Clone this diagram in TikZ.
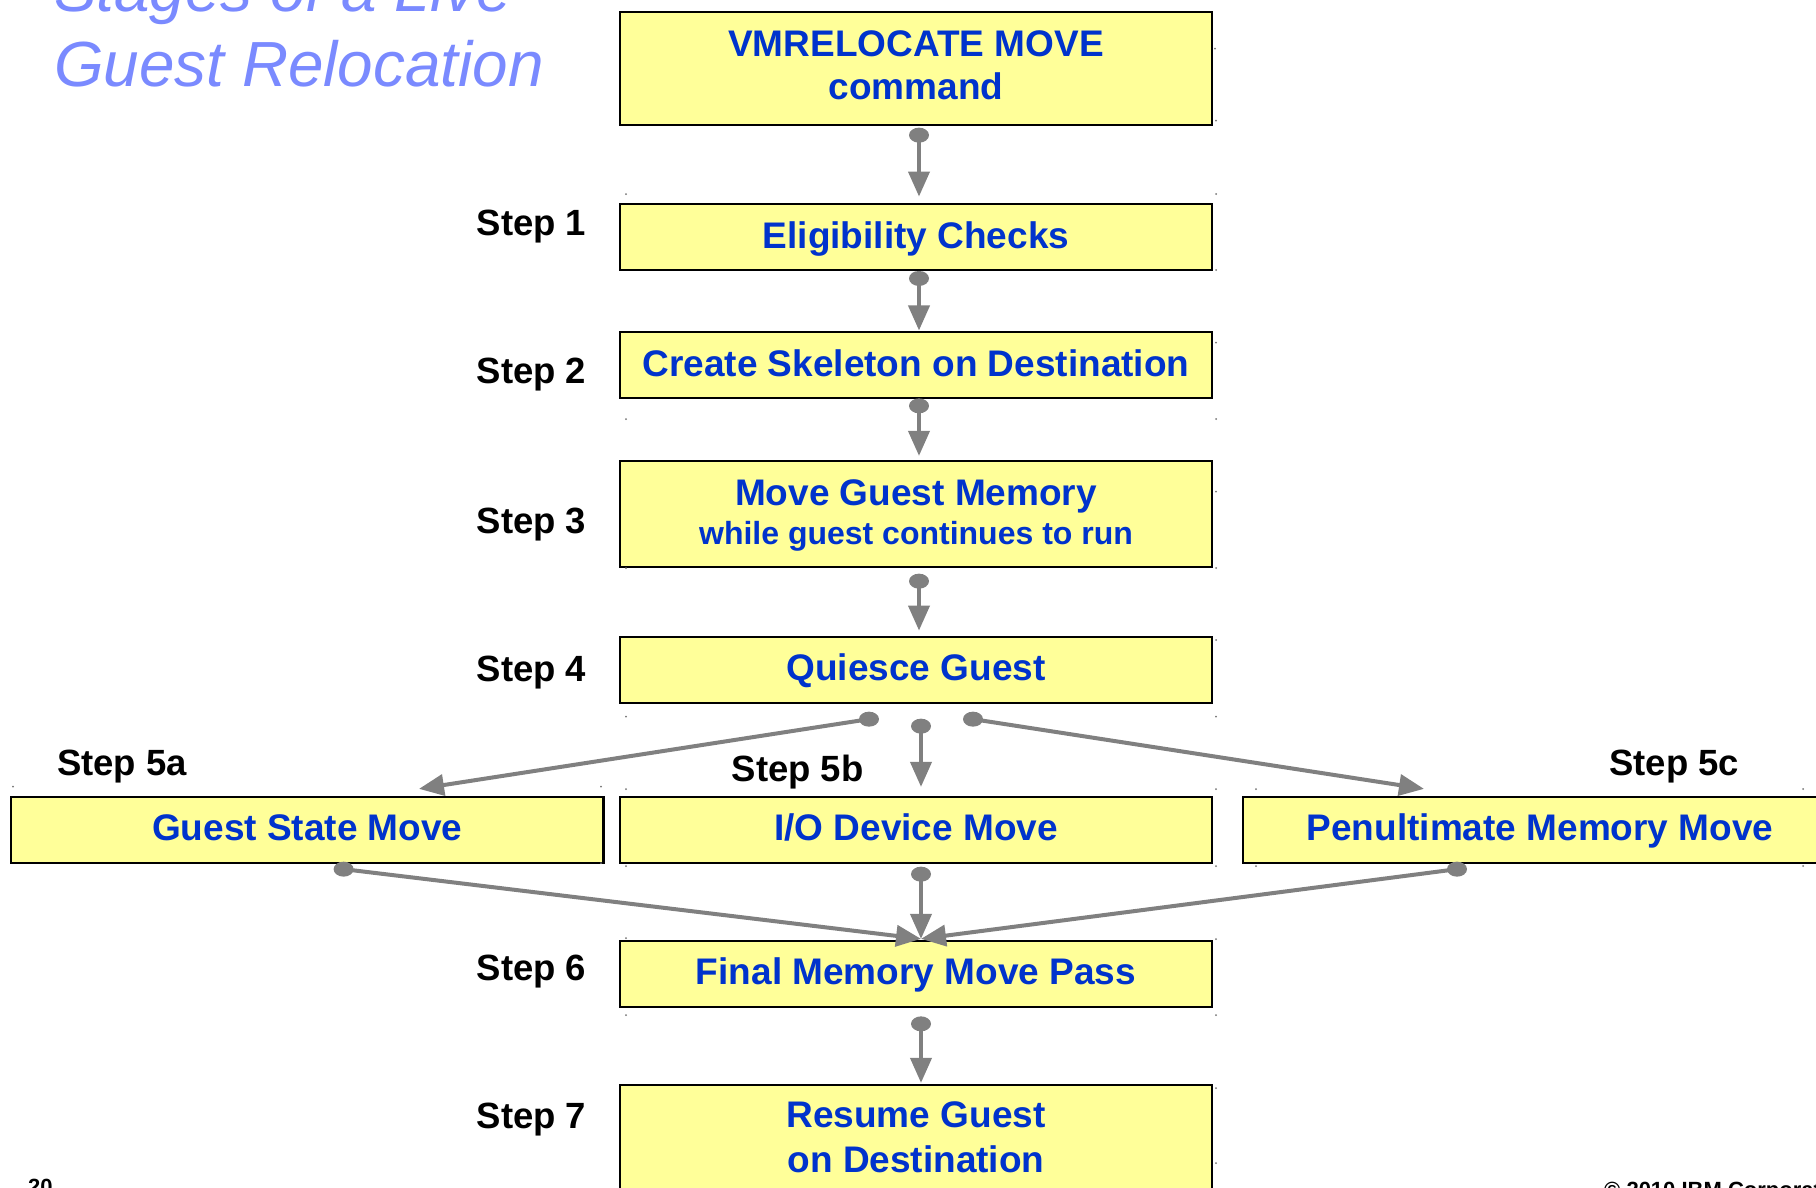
\documentclass[tikz,border=0pt]{standalone}
\usepackage{fontspec}
\setmainfont{Liberation Sans}
\usetikzlibrary{arrows.meta,calc}
\definecolor{boxfill}{RGB}{255,255,153}
\definecolor{txtblue}{RGB}{0,51,204}
\definecolor{titleblue}{RGB}{122,138,255}
\definecolor{conngray}{RGB}{128,128,128}
\tikzset{
  stagebox/.style={draw=black, line width=2.3pt, fill=boxfill, inner sep=0pt,
    minimum width=592pt, minimum height=66pt, text=txtblue,
    font=\bfseries\fontsize{37}{44}\selectfont, text height=22pt, text depth=0pt},
  boxtext/.style={inner sep=0pt, anchor=base, text=txtblue, font=\bfseries\fontsize{37}{44}\selectfont},
  smalltext/.style={inner sep=0pt, anchor=base, text=txtblue, font=\bfseries\fontsize{32}{38}\selectfont},
  steplabel/.style={inner sep=0pt, anchor=base west, font=\bfseries\fontsize{36.5}{44}\selectfont},
  titletext/.style={inner sep=0pt, anchor=base west, text=titleblue, font=\itshape\fontsize{63.8}{75}\selectfont},
  foottext/.style={inner sep=0pt, anchor=base west, font=\bfseries\fontsize{22}{26}\selectfont},
  conn/.style={draw=conngray, line width=4pt, -{Triangle[width=21pt,length=25pt]}},
  conndot/.style={fill=conngray},
  handle/.style={fill=black!55},
}
\begin{document}
\begin{tikzpicture}[x=1pt,y=-1pt]
\useasboundingbox (0,0) rectangle (1816,1187);
\fill[white] (0,0) rectangle (1816,1187);

% title
\node[titletext] (title1) at (54,11) {Stages of a Live};
\node[titletext] (title2) at (54,86) {Guest Relocation};

% boxes
\node[stagebox, minimum height=113pt] (b0) at (916,68.5) {};
\node[boxtext] (t0a) at (916,56.8) {VMRELOCATE MOVE};
\node[boxtext] (t0b) at (916,99.6) {command};
\node[stagebox] (b1) at (916,237.3) {Eligibility Checks};
\node[stagebox] (b2) at (916,365.2) {Create Skeleton on Destination};
\node[stagebox, minimum height=106pt] (b3) at (916,513.7) {};
\node[boxtext] (t3a) at (916,505) {Move Guest Memory};
\node[smalltext] (t3b) at (916,544) {while guest continues to run};
\node[stagebox] (b4) at (916,669.7) {Quiesce Guest};
\node[stagebox, minimum width=592.6pt] (b5a) at (307.3,829.7) {Guest State Move};
\node[stagebox] (b5b) at (916,829.7) {I/O Device Move};
\node[stagebox, minimum width=594pt] (b5c) at (1540,829.7) {Penultimate Memory Move};
\node[stagebox] (b6) at (916,973.7) {Final Memory Move Pass};
\node[stagebox, minimum height=111pt] (b7) at (916,1140.5) {};
\node[boxtext] (t7a) at (916,1127) {Resume Guest};
\node[boxtext] (t7b) at (916,1172) {on Destination};

% step labels
\node[steplabel] (s1) at (476.5,235) {Step 1};
\node[steplabel] (s2) at (476.5,383.3) {Step 2};
\node[steplabel] (s3) at (476.5,533.3) {Step 3};
\node[steplabel] (s4) at (476.5,681.7) {Step 4};
\node[steplabel] (s5a) at (57,775) {Step 5a};
\node[steplabel] (s5b) at (731.5,781.7) {Step 5b};
\node[steplabel] (s5c) at (1609,775) {Step 5c};
\node[steplabel] (s6) at (476.5,980) {Step 6};
\node[steplabel] (s7) at (476.5,1128.3) {Step 7};

% footer
\node[foottext] (pg) at (28,1194) {20};
\node[foottext] (copy) at (1604,1197) {© 2010 IBM Corporation};

% connector start points (dots)
\coordinate (d1) at ($(b0.south)+(3,9)$);
\coordinate (d2) at ($(b1.south)+(3,7)$);
\coordinate (d3) at ($(b2.south)+(3,6.5)$);
\coordinate (d4) at ($(b3.south)+(3,13.3)$);
\coordinate (d5l) at ($(b4.south)+(-47,15.3)$);
\coordinate (d5m) at ($(b4.south)+(5,22.3)$);
\coordinate (d5r) at ($(b4.south)+(57,15.3)$);
\coordinate (d6l) at ($(b5a.south)+(36.3,5.3)$);
\coordinate (d6m) at ($(b5b.south)+(5,10.3)$);
\coordinate (d6r) at ($(b5c.south)+(-83,5.3)$);
\coordinate (d7) at ($(b6.south)+(5,16)$);
\coordinate (e6) at ($(b6.north)+(5,-0.7)$);

\draw[conn] (d1) -- ($(b1.north)+(3,-6.6)$);
\draw[conn] (d2) -- ($(b2.north)+(3,-0.6)$);
\draw[conn] (d3) -- ($(b3.north)+(3,-3.7)$);
\draw[conn] (d4) -- ($(b4.north)+(3,-5)$);
\draw[conn] (d5l) -- ($(b5a.north)+(111.7,-6.7)$);
\draw[conn] (d5m) -- ($(b5b.north)+(5,-8.7)$);
\draw[conn] (d5r) -- ($(b5c.north)+(-116,-6.7)$);
\draw[conn] (d6l) -- (e6);
\draw[conn] (d6m) -- (e6);
\draw[conn] (d6r) -- (e6);
\draw[conn] (d7) -- ($(b7.north)+(5,-1)$);
\foreach \d in {d1,d2,d3,d4,d5l,d5m,d5r,d6l,d6m,d6r,d7}
  \fill[conndot] (\d) ellipse [x radius=10, y radius=7.5];

% tiny frame handles
\foreach \p in {(1215,48.6),(1216,120.7),(626,194),(1216,194),(1216,270),(1216,342.7),
  (626,419),(1216,419),(1216,491.7),(626,568),(1216,568),(1216,640),(626,716.7),(1216,716.7),
  (13,786.7),(601,786.7),(626,789),(1216,789),(1256,789),(1803,789),(601,863),(626,866),
  (1216,866),(1256,866),(1803,866),(626,938),(1216,939),(626,1015),(1216,1015),(1216,1088),(1216,1163)}
  \fill[handle] \p circle (1);
\end{tikzpicture}
\end{document}
